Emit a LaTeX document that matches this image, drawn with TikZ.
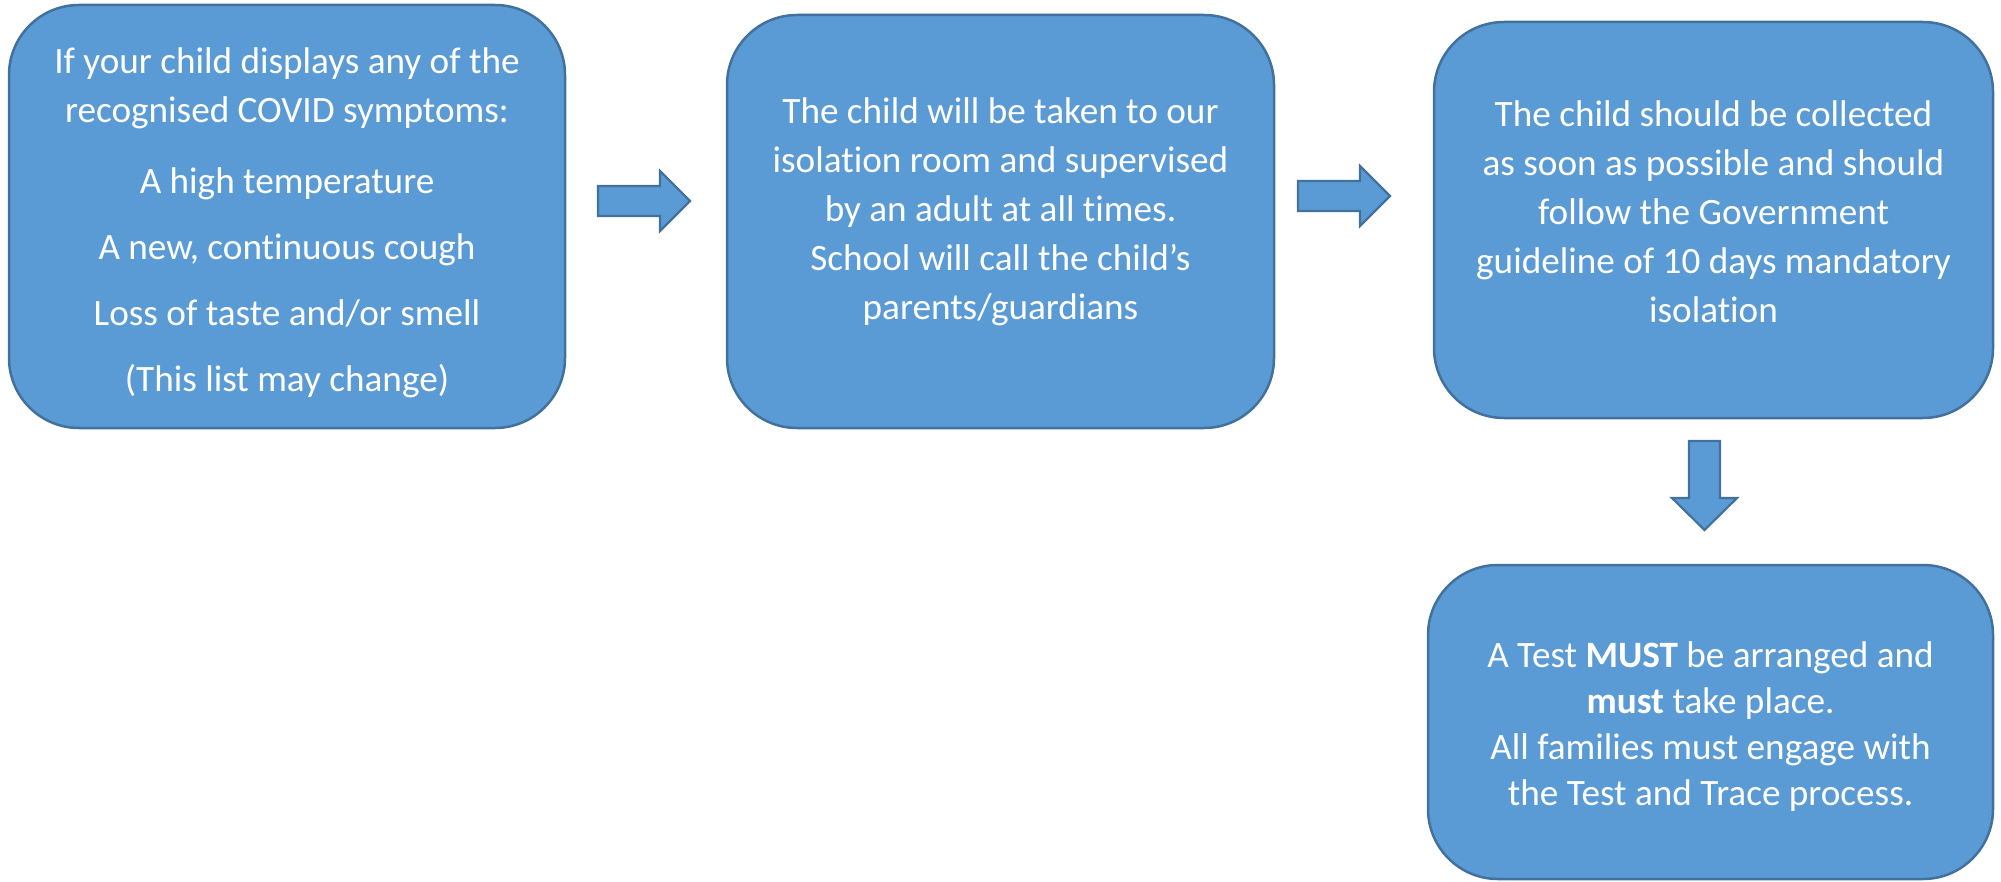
\documentclass[tikz,border=0pt]{standalone}
\usepackage{fontspec}
\setmainfont{Carlito}[Ligatures=NoCommon]
\definecolor{boxfill}{HTML}{5B9BD5}
\definecolor{boxline}{HTML}{41719C}
\tikzset{
  flowbox/.style={draw=boxline, fill=boxfill, line width=1.25pt, rounded corners=35pt, inner sep=0pt},
  boxtext/.style={text=white, align=center, inner sep=0pt,
    font=\fontsize{18.6}{24.5}\selectfont},
  blockarrow/.style={draw=boxline, fill=boxfill, line width=1.1pt, line join=miter}
}
\begin{document}
\begin{tikzpicture}[x=0.5pt,y=-0.5pt]
\useasboundingbox (0,0) rectangle (2001,882);
\node[flowbox, minimum width=278pt, minimum height=211.5pt] (b1) at (287,216.5) {};
\node[flowbox, minimum width=273.5pt, minimum height=206.5pt] (b2) at (1000.5,221.5) {};
\node[flowbox, minimum width=279.5pt, minimum height=198pt] (b3) at (1713.5,220) {};
\node[flowbox, minimum width=282.5pt, minimum height=157pt] (b4) at (1710.5,722) {};
\node[boxtext] (t1) at (287,223)
  {If your child displays any of the\\recognised COVID symptoms:\\[11pt]
   A high temperature\\[8.5pt]A new, continuous cough\\[8.5pt]Loss of taste and/or smell\\[8.5pt](This list may change)};
\node[boxtext] (t2) at (1000.5,212)
  {The child will be taken to our\\isolation room and supervised\\by an adult at all times.\\School will call the child’s\\parents/guardians};
\node[boxtext] (t3) at (1713.5,212)
  {The child should be collected\\as soon as possible and should\\follow the Government\\guideline of 10 days mandatory\\isolation};
\node[boxtext, font=\fontsize{18.6}{23}\selectfont] (t4) at (1710.5,727)
  {A Test \textbf{MUST} be arranged and\\\textbf{must} take place.\\All families must engage with\\the Test and Trace process.};
% block arrows
\draw[blockarrow] (598,186) -- (660,186) -- (660,171) -- (690,201) -- (660,231) -- (660,216) -- (598,216) -- cycle;
\draw[blockarrow] (1298,181) -- (1360,181) -- (1360,166) -- (1390,196) -- (1360,226) -- (1360,211) -- (1298,211) -- cycle;
\draw[blockarrow] (1689,441) -- (1720,441) -- (1720,498) -- (1737,498) -- (1704.5,530) -- (1672,498) -- (1689,498) -- cycle;
\end{tikzpicture}
\end{document}
